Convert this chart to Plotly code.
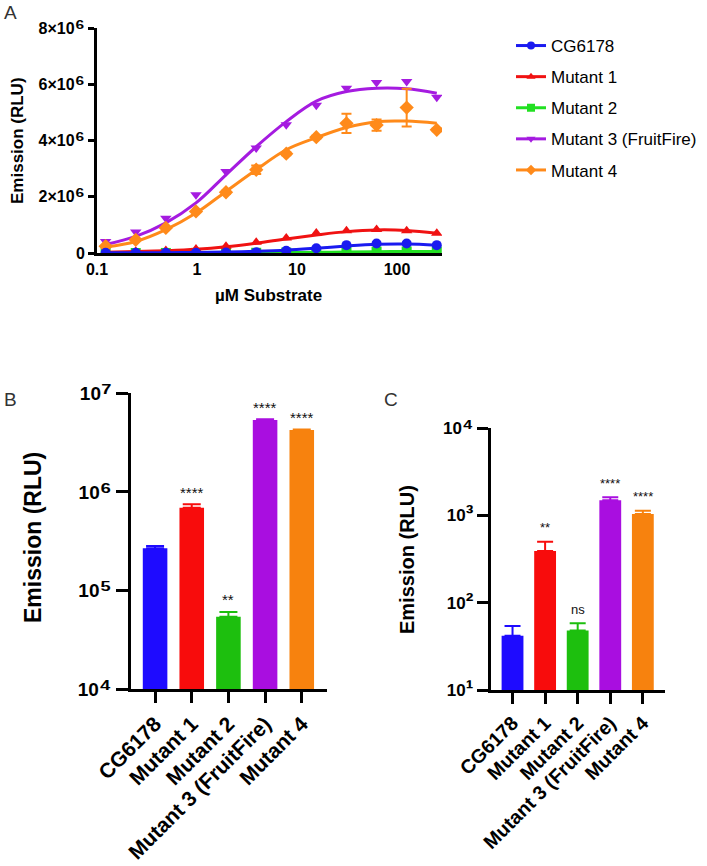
import math
import plotly.graph_objects as go

# ---------------- DATA ----------------
conc = [0.122, 0.244, 0.488, 0.977, 1.95, 3.91, 7.81, 15.6, 31.25, 62.5, 125, 250]
series_names = ["CG6178", "Mutant 1", "Mutant 2", "Mutant 3 (FruitFire)", "Mutant 4"]

# panel A measured points (RLU)
cg6178_pts = [0.005e6, 0.005e6, 0.005e6, 0.01e6, 0.015e6, 0.03e6, 0.08e6, 0.17e6, 0.28e6, 0.34e6, 0.34e6, 0.28e6]
mut1_pts = [0.04e6, 0.06e6, 0.09e6, 0.14e6, 0.24e6, 0.38e6, 0.53e6, 0.71e6, 0.79e6, 0.84e6, 0.79e6, 0.70e6]
mut2_pts = [0.001e6, 0.001e6, 0.002e6, 0.003e6, 0.005e6, 0.008e6, 0.015e6, 0.025e6, 0.04e6, 0.05e6, 0.055e6, 0.05e6]
mut3_pts = [0.41e6, 0.75e6, 1.24e6, 2.07e6, 2.90e6, 3.73e6, 4.56e6, 5.25e6, 5.86e6, 6.06e6, 6.10e6, 5.54e6]
mut4_pts = [0.24e6, 0.47e6, 0.89e6, 1.48e6, 2.16e6, 2.96e6, 3.53e6, 4.12e6, 4.61e6, 4.55e6, 5.17e6, 4.38e6]
mut4_err = [0, 0, 0, 0, 0.05e6, 0.15e6, 0.05e6, 0.05e6, 0.34e6, 0.20e6, 0.67e6, 0.05e6]

# panel A fitted curves
cg6178_fit = [0.005e6, 0.008e6, 0.012e6, 0.02e6, 0.035e6, 0.06e6, 0.10e6, 0.17e6, 0.25e6, 0.31e6, 0.32e6, 0.28e6]
mut1_fit = [0.03e6, 0.05e6, 0.08e6, 0.13e6, 0.22e6, 0.35e6, 0.50e6, 0.64e6, 0.76e6, 0.82e6, 0.80e6, 0.70e6]
mut2_fit = [0.001e6, 0.002e6, 0.003e6, 0.004e6, 0.006e6, 0.01e6, 0.016e6, 0.025e6, 0.037e6, 0.047e6, 0.052e6, 0.05e6]
mut3_fit = [0.30e6, 0.59e6, 1.07e6, 1.78e6, 2.78e6, 3.78e6, 4.67e6, 5.40e6, 5.74e6, 5.86e6, 5.84e6, 5.68e6]
mut4_fit = [0.21e6, 0.41e6, 0.83e6, 1.42e6, 2.19e6, 2.96e6, 3.67e6, 4.10e6, 4.46e6, 4.67e6, 4.69e6, 4.61e6]

a_xtick_vals = [0.1, 1, 10, 100]
a_xtick_text = ["0.1", "1", "10", "100"]
a_ytick_vals = [0, 2e6, 4e6, 6e6, 8e6]
a_ytick_base = ["0", "2×10", "4×10", "6×10", "8×10"]
a_ytick_exp = ["", "⁶", "⁶", "⁶", "⁶"]

# panel B
b_values = [2.69e5, 6.93e5, 5.45e4, 5.37e6, 4.25e6]
b_err = [0.15e5, 0.57e5, 0.63e4, 0.08e6, 0.05e6]
b_sig = ["", "****", "**", "****", "****"]
b_ytick_vals = [1e4, 1e5, 1e6, 1e7]
b_ytick_exp = ["⁴", "⁵", "⁶", "⁷"]

# panel C
c_values = [41.8, 393, 48, 1496, 1042]
c_err = [12.5, 109, 10.3, 126, 95]
c_sig = ["", "**", "ns", "****", "****"]
c_ytick_vals = [1e1, 1e2, 1e3, 1e4]
c_ytick_exp = ["¹", "²", "³", "⁴"]

# ---------------- STYLE ----------------
line_colors = ["#1a1af0", "#f01212", "#22e022", "#a51be0", "#ff8a1a"]
bar_colors = ["#1e0bff", "#f80c0c", "#1dbf0e", "#a90ee0", "#f7820e"]
symbols = ["circle", "triangle-up", "square", "triangle-down", "diamond"]
FONT = "Arial, 'Liberation Sans', Helvetica, sans-serif"
W, H = 707, 866


def px(x):
    return x / W


def py(y):
    return 1 - y / H


def xdom(l, r):
    return [px(l), px(r)]


def ydom(top, bottom):
    return [py(bottom), py(top)]


def sup_label(base, exp, size):
    if not exp:
        return base
    return "%s<span style='font-size:%dpx'>%s</span>" % (base, size, exp)


fig = go.Figure()

pts = [cg6178_pts, mut1_pts, mut2_pts, mut3_pts, mut4_pts]
fits = [cg6178_fit, mut1_fit, mut2_fit, mut3_fit, mut4_fit]
errs = [None, None, None, None, mut4_err]
order = [2, 1, 3, 4, 0]
for i in order:
    fig.add_trace(go.Scatter(
        x=conc, y=fits[i], mode="lines", line=dict(color=line_colors[i], width=3, shape="spline"),
        showlegend=False, hoverinfo="skip", xaxis="x", yaxis="y"))
    fig.add_trace(go.Scatter(
        x=conc, y=pts[i], mode="markers",
        marker=dict(symbol=symbols[i], size=10 if symbols[i] != "diamond" else 11, color=line_colors[i]),
        error_y=(dict(type="data", array=errs[i], color=line_colors[i], thickness=2, width=5)
                 if errs[i] is not None else None),
        showlegend=False, xaxis="x", yaxis="y"))

# legend entries
for i, name in enumerate(series_names):
    fig.add_trace(go.Scatter(
        x=[None], y=[None], mode="lines+markers", name=name,
        line=dict(color=line_colors[i], width=3),
        marker=dict(symbol=symbols[i], size=8, color=line_colors[i]),
        legendgroup=name, xaxis="x", yaxis="y"))

# Panels B and C: one bar trace per category so that error bars share the bar colour
for i, name in enumerate(series_names):
    fig.add_trace(go.Bar(
        x=[name], y=[b_values[i]], width=0.67,
        marker=dict(color=bar_colors[i], line=dict(width=0)),
        error_y=dict(type="data", symmetric=False, array=[b_err[i]], arrayminus=[0],
                     color=bar_colors[i], thickness=2, width=9),
        showlegend=False, xaxis="x2", yaxis="y2"))
    fig.add_trace(go.Bar(
        x=[name], y=[c_values[i]], width=0.67,
        marker=dict(color=bar_colors[i], line=dict(width=0)),
        error_y=dict(type="data", symmetric=False, array=[c_err[i]], arrayminus=[0],
                     color=bar_colors[i], thickness=2, width=8),
        showlegend=False, xaxis="x3", yaxis="y3"))

annotations = []
for name, v, e, s in zip(series_names, b_values, b_err, b_sig):
    if s:
        annotations.append(dict(x=name, y=math.log10(v + e), xref="x2", yref="y2", text=s,
                                showarrow=False, yanchor="middle", yshift=12,
                                font=dict(family=FONT, size=15, color="#111")))
for name, v, e, s in zip(series_names, c_values, c_err, c_sig):
    if s:
        annotations.append(dict(x=name, y=math.log10(v + e), xref="x3", yref="y3", text=s,
                                showarrow=False, yanchor="middle", yshift=14,
                                font=dict(family=FONT, size=13, color="#111")))

BOLD = "bold"
annotations += [
    dict(x=px(18), y=py(141), xref="paper", yref="paper", text="Emission (RLU)", textangle=-90,
         xanchor="center", yanchor="middle", showarrow=False,
         font=dict(family=FONT, size=17, color="#000", weight=BOLD)),
    dict(x=px(268), y=py(295), xref="paper", yref="paper", text="µM Substrate",
         xanchor="center", yanchor="middle", showarrow=False,
         font=dict(family=FONT, size=17, color="#000", weight=BOLD)),
    dict(x=px(33), y=py(538), xref="paper", yref="paper", text="Emission (RLU)", textangle=-90,
         xanchor="center", yanchor="middle", showarrow=False,
         font=dict(family=FONT, size=23, color="#000", weight=BOLD)),
    dict(x=px(407), y=py(560), xref="paper", yref="paper", text="Emission (RLU)", textangle=-90,
         xanchor="center", yanchor="middle", showarrow=False,
         font=dict(family=FONT, size=20, color="#000", weight=BOLD)),
    dict(x=px(2), y=py(12), xref="paper", yref="paper", text="A", xanchor="left", yanchor="middle",
         showarrow=False, font=dict(family=FONT, size=19, color="#333")),
    dict(x=px(2), y=py(399), xref="paper", yref="paper", text="B", xanchor="left", yanchor="middle",
         showarrow=False, font=dict(family=FONT, size=19, color="#333")),
    dict(x=px(382), y=py(399), xref="paper", yref="paper", text="C", xanchor="left", yanchor="middle",
         showarrow=False, font=dict(family=FONT, size=19, color="#333")),
]

axis_common = dict(showline=True, linecolor="#000", linewidth=3, showgrid=False, zeroline=False,
                   color="#000", automargin=False)

fig.update_layout(
    width=W, height=H, margin=dict(l=0, r=0, t=0, b=0, autoexpand=False),
    paper_bgcolor="white", plot_bgcolor="white",
    font=dict(family=FONT, color="#000"),
    barmode="overlay",
    xaxis=dict(domain=xdom(97, 442), type="log", range=[-1, math.log10(282)],
               tickvals=a_xtick_vals, ticktext=a_xtick_text,
               ticks="", tickfont=dict(size=16, weight=BOLD), anchor="y", **axis_common),
    yaxis=dict(domain=ydom(28, 253), range=[0, 8e6],
               tickvals=a_ytick_vals,
               ticktext=[sup_label(b, e, 22) for b, e in zip(a_ytick_base, a_ytick_exp)],
               ticks="outside", ticklen=6, tickwidth=3, tickcolor="#000",
               tickfont=dict(size=16, weight=BOLD), anchor="x", **axis_common),
    xaxis2=dict(domain=xdom(130.5, 326.7), type="category", range=[-0.67, 4.68],
                categoryorder="array", categoryarray=series_names,
                tickangle=-45, ticks="outside", ticklen=11, tickwidth=3, tickcolor="#000",
                tickfont=dict(size=21, weight=BOLD), anchor="y2", **axis_common),
    yaxis2=dict(domain=ydom(393.3, 689.3), type="log", range=[4, 7],
                tickvals=b_ytick_vals,
                ticktext=[sup_label("10", e, 26) for e in b_ytick_exp],
                ticks="outside", ticklen=12, tickwidth=3, tickcolor="#000",
                tickfont=dict(size=19, weight=BOLD), anchor="x2", **axis_common),
    xaxis3=dict(domain=xdom(490.7, 665), type="category", range=[-0.67, 4.68],
                categoryorder="array", categoryarray=series_names,
                tickangle=-45, ticks="outside", ticklen=11, tickwidth=3, tickcolor="#000",
                tickfont=dict(size=19.5, weight=BOLD), anchor="y3", **axis_common),
    yaxis3=dict(domain=ydom(428.3, 690), type="log", range=[1, 4],
                tickvals=c_ytick_vals,
                ticktext=[sup_label("10", e, 23) for e in c_ytick_exp],
                ticks="outside", ticklen=11, tickwidth=3, tickcolor="#000",
                tickfont=dict(size=17, weight=BOLD), anchor="x3", **axis_common),
    legend=dict(x=px(511), y=py(28), xanchor="left", yanchor="top",
                font=dict(family=FONT, size=17, color="#000"),
                tracegroupgap=6, itemwidth=30, bgcolor="rgba(0,0,0,0)"),
    annotations=annotations,
)

# remove the default page margin so that the figure sits at the window's top-left corner
fig.write_html("out.html", config={"displayModeBar": False},
               post_script="document.body.style.margin='0';")
